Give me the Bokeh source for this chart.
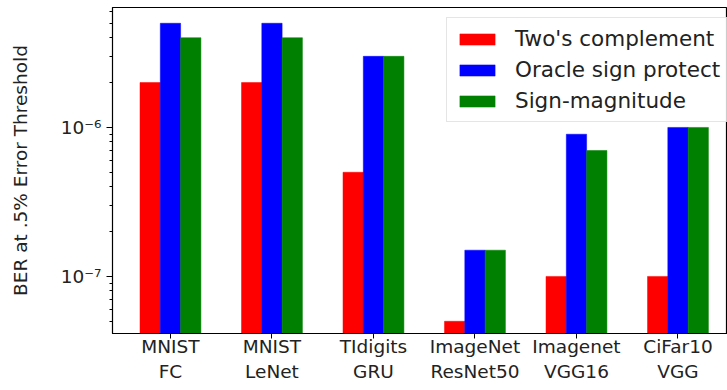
from bokeh.plotting import figure
from bokeh.models import ColumnDataSource, FixedTicker, Legend, LegendItem, Range1d, LogTicker
from bokeh.embed import file_html
from bokeh.resources import INLINE
import numpy as np

categories = ["MNIST\nFC", "MNIST\nLeNet", "TIdigits\nGRU", "ImageNet\nResNet50", "Imagenet\nVGG16", "CiFar10\nVGG"]
twos_complement = [2e-6, 2e-6, 5e-7, 5e-8, 1e-7, 1e-7]
oracle_sign_protect = [5e-6, 5e-6, 3e-6, 1.5e-7, 9e-7, 1e-6]
sign_magnitude = [4e-6, 4e-6, 3e-6, 1.5e-7, 7e-7, 1e-6]
series_names = ["Two's complement", "Oracle sign protect", "Sign-magnitude"]
series_colors = ["#ff0000", "#0000ff", "#008000"]

FONT = "DejaVu Sans"
idx = np.arange(len(categories))
bar_w = 0.2
offsets = [-0.2, 0.0, 0.2]

p = figure(width=727, height=390, output_backend="svg", toolbar_location=None,
           y_axis_type="log",
           x_range=Range1d(-0.571, 5.488), y_range=Range1d(4.14e-8, 6.38e-6),
           min_border_left=112, min_border_right=0, min_border_top=7, min_border_bottom=57)

items = []
for vals, name, col, off in zip([twos_complement, oracle_sign_protect, sign_magnitude],
                                series_names, series_colors, offsets):
    src = ColumnDataSource(dict(x=idx + off, top=vals, bottom=[1e-9] * len(vals)))
    r = p.vbar(x="x", top="top", bottom="bottom", width=bar_w, source=src,
               fill_color=col, line_color=col, line_width=0.5)
    items.append(LegendItem(label=name, renderers=[r]))

p.grid.visible = False
p.background_fill_color = "white"
p.border_fill_color = "white"
p.outline_line_color = "black"
p.outline_line_width = 1.2

# x axis
p.xaxis.ticker = FixedTicker(ticks=list(idx))
p.xaxis.major_label_overrides = {int(i): c for i, c in zip(idx, categories)}
p.xaxis.major_label_text_font = FONT
p.xaxis.major_label_text_font_size = "18.5px"
p.xaxis.major_label_text_color = "#222222"
p.xaxis.major_tick_out = 5
p.xaxis.major_tick_in = 0
p.xaxis.minor_tick_out = 0
p.xaxis.minor_tick_in = 0
p.xaxis.axis_line_color = "black"
p.xaxis.major_label_standoff = -3

# y axis
p.yaxis.ticker = LogTicker(num_minor_ticks=10)
p.yaxis.major_label_text_font = FONT
p.yaxis.major_label_text_font_size = "18.5px"
p.yaxis.major_label_text_color = "#222222"
p.yaxis.major_tick_out = 6
p.yaxis.major_tick_in = 0
p.yaxis.minor_tick_out = 3
p.yaxis.minor_tick_in = 0
p.yaxis.axis_label = "BER at .5% Error Threshold"
p.yaxis.axis_label_text_font = FONT
p.yaxis.axis_label_text_font_size = "18.5px"
p.yaxis.axis_label_text_font_style = "normal"
p.yaxis.axis_label_text_color = "#222222"
p.yaxis.axis_label_standoff = 27
p.yaxis.major_label_overrides = {1e-6: "10\u207b\u2076", 1e-7: "10\u207b\u2077"}

legend = Legend(items=items, location=(334, 211), margin=0,
                glyph_width=44, glyph_height=14, label_standoff=16,
                spacing=6, padding=8,
                label_text_font=FONT, label_text_font_size="21.5px",
                label_text_color="#222222",
                border_line_color="#cccccc", border_line_width=1,
                background_fill_color="white", background_fill_alpha=0.8)
p.add_layout(legend)

open("out.html", "w").write(file_html(p, INLINE))
